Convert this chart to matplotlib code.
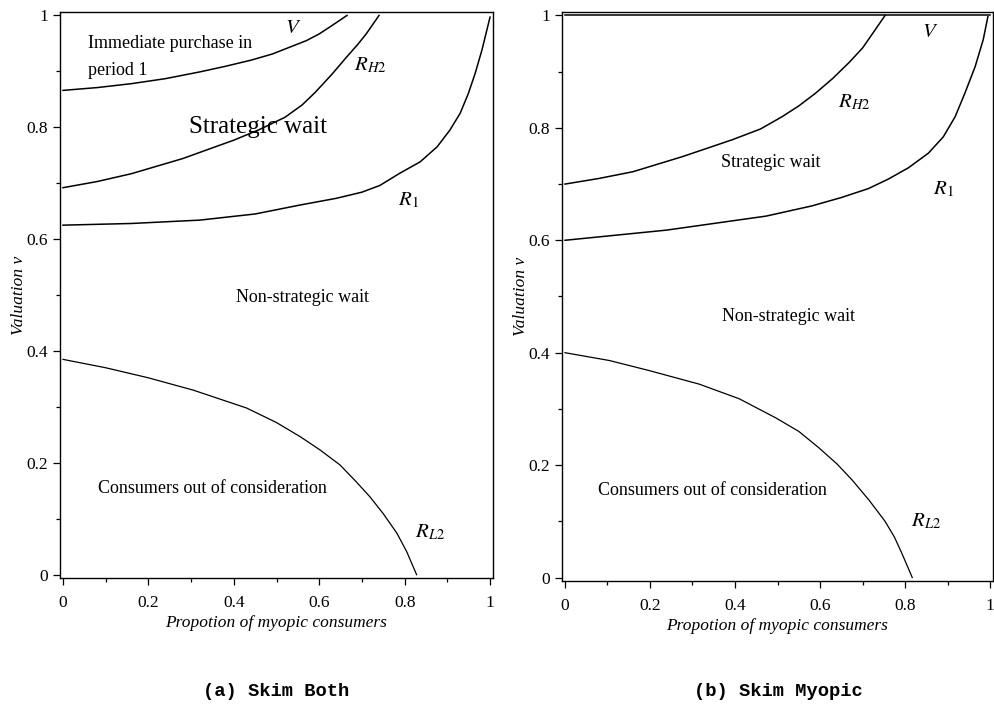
import numpy as np
import matplotlib
matplotlib.use("Agg")
import matplotlib.pyplot as plt
from matplotlib.ticker import MultipleLocator

plt.rcParams['font.family'] = ['Liberation Serif', 'DejaVu Serif']
plt.rcParams['mathtext.fontset'] = 'stix'

# (a) Skim Both
a_v_x = [0, 0.08, 0.16, 0.24, 0.32, 0.38, 0.44, 0.49, 0.53, 0.57, 0.60, 0.63, 0.665]
a_v_y = [0.866, 0.871, 0.878, 0.887, 0.899, 0.909, 0.92, 0.931, 0.943, 0.955, 0.967, 0.982, 1.0]
a_rh2_x = [0, 0.08, 0.16, 0.28, 0.40, 0.46, 0.52, 0.56, 0.59, 0.63, 0.66, 0.69, 0.71, 0.74]
a_rh2_y = [0.692, 0.703, 0.717, 0.744, 0.777, 0.796, 0.818, 0.840, 0.862, 0.895, 0.922, 0.948, 0.967, 1.0]
a_r1_x = [0, 0.16, 0.32, 0.45, 0.555, 0.64, 0.70, 0.742, 0.789, 0.836, 0.876, 0.906, 0.93,
          0.949, 0.965, 0.981, 1.0]
a_r1_y = [0.625, 0.628, 0.634, 0.645, 0.661, 0.673, 0.684, 0.696, 0.718, 0.738, 0.765, 0.795,
          0.825, 0.86, 0.896, 0.938, 0.997]
a_rl2_x = [0, 0.10, 0.20, 0.305, 0.43, 0.50, 0.555, 0.602, 0.649, 0.688, 0.719, 0.75, 0.782,
           0.805, 0.828]
a_rl2_y = [0.385, 0.37, 0.352, 0.33, 0.298, 0.272, 0.247, 0.223, 0.196, 0.165, 0.139, 0.109,
           0.074, 0.041, 0.0]

# (b) Skim Myopic
b_v_x = [0, 1]
b_v_y = [1, 1]
b_rh2_x = [0, 0.08, 0.16, 0.277, 0.394, 0.46, 0.511, 0.55, 0.59, 0.63, 0.668, 0.70, 0.722, 0.753]
b_rh2_y = [0.70, 0.71, 0.722, 0.749, 0.779, 0.798, 0.82, 0.839, 0.862, 0.888, 0.916, 0.942, 0.966, 1.0]
b_r1_x = [0, 0.238, 0.473, 0.58, 0.65, 0.714, 0.761, 0.808, 0.855, 0.89, 0.918, 0.941, 0.965,
          0.984, 0.995]
b_r1_y = [0.60, 0.618, 0.643, 0.661, 0.676, 0.692, 0.709, 0.729, 0.755, 0.784, 0.82, 0.862, 0.909,
          0.957, 0.998]
b_rl2_x = [0, 0.105, 0.199, 0.316, 0.41, 0.496, 0.55, 0.597, 0.64, 0.675, 0.715, 0.753, 0.775,
           0.792, 0.817]
b_rl2_y = [0.40, 0.386, 0.368, 0.344, 0.318, 0.284, 0.26, 0.231, 0.202, 0.174, 0.138, 0.10,
           0.072, 0.044, 0.0]

fig = plt.figure(figsize=(9.94, 7.11), dpi=100)
ax1 = fig.add_axes([0.0604, 0.187, 0.4356, 0.796])
ax2 = fig.add_axes([0.5654, 0.183, 0.4336, 0.800])

for ax in (ax1, ax2):
    ax.set_xlim(-0.007, 1.007)
    ax.set_ylim(-0.006, 1.006)
    ax.xaxis.set_major_locator(MultipleLocator(0.2))
    ax.xaxis.set_minor_locator(MultipleLocator(0.1))
    ax.yaxis.set_major_locator(MultipleLocator(0.2))
    ax.yaxis.set_minor_locator(MultipleLocator(0.1))
    ax.xaxis.set_major_formatter(plt.FuncFormatter(lambda v, p: '%g' % round(v, 1)))
    ax.yaxis.set_major_formatter(plt.FuncFormatter(lambda v, p: '%g' % round(v, 1)))
    ax.tick_params(which='major', direction='out', length=5, width=0.9, labelsize=12.5)
    ax.tick_params(axis='x', which='major', pad=7)
    ax.tick_params(which='minor', direction='out', length=3, width=0.9)
    ax.tick_params(top=False, right=False)
    for s in ax.spines.values():
        s.set_linewidth(1.0)
    ax.set_xlabel('Propotion of myopic consumers', style='italic', fontsize=12.5, labelpad=3)
    ax.set_ylabel('Valuation v', style='italic', fontsize=12.5, labelpad=0)

lw = 1.1
ax1.plot(a_v_x, a_v_y, color='black', lw=lw)
ax1.plot(a_rh2_x, a_rh2_y, color='black', lw=lw)
ax1.plot(a_r1_x, a_r1_y, color='black', lw=lw)
ax1.plot(a_rl2_x, a_rl2_y, color='black', lw=0.9)

ax2.plot(b_v_x, b_v_y, color='black', lw=lw)
ax2.plot(b_rh2_x, b_rh2_y, color='black', lw=lw)
ax2.plot(b_r1_x, b_r1_y, color='black', lw=lw)
ax2.plot(b_rl2_x, b_rl2_y, color='black', lw=0.9)

# region / curve labels, left
ax1.text(0.54, 0.977, '$V$', fontsize=15, ha='center', va='center')
ax1.text(0.058, 0.95, 'Immediate purchase in', fontsize=13, va='center')
ax1.text(0.058, 0.902, 'period 1', fontsize=13, va='center')
ax1.text(0.72, 0.91, '$R_{H2}$', fontsize=15, ha='center', va='center')
ax1.text(0.457, 0.80, 'Strategic wait', fontsize=18, ha='center', va='center')
ax1.text(0.81, 0.67, '$R_1$', fontsize=15, ha='center', va='center')
ax1.text(0.56, 0.495, 'Non-strategic wait', fontsize=13, ha='center', va='center')
ax1.text(0.349, 0.155, 'Consumers out of consideration', fontsize=13, ha='center', va='center')
ax1.text(0.86, 0.075, '$R_{L2}$', fontsize=15, ha='center', va='center')

# right
ax2.text(0.86, 0.97, '$V$', fontsize=15, ha='center', va='center')
ax2.text(0.68, 0.846, '$R_{H2}$', fontsize=15, ha='center', va='center')
ax2.text(0.485, 0.739, 'Strategic wait', fontsize=13, ha='center', va='center')
ax2.text(0.89, 0.69, '$R_1$', fontsize=15, ha='center', va='center')
ax2.text(0.525, 0.464, 'Non-strategic wait', fontsize=13, ha='center', va='center')
ax2.text(0.347, 0.154, 'Consumers out of consideration', fontsize=13, ha='center', va='center')
ax2.text(0.85, 0.10, '$R_{L2}$', fontsize=15, ha='center', va='center')

fig.text(276 / 994, 1 - 692 / 711, '(a) Skim Both', family='Liberation Mono',
         weight='bold', fontsize=13.5, ha='center', va='center')
fig.text(778 / 994, 1 - 692 / 711, '(b) Skim Myopic', family='Liberation Mono',
         weight='bold', fontsize=13.5, ha='center', va='center')

fig.savefig('out.png', dpi=100)
